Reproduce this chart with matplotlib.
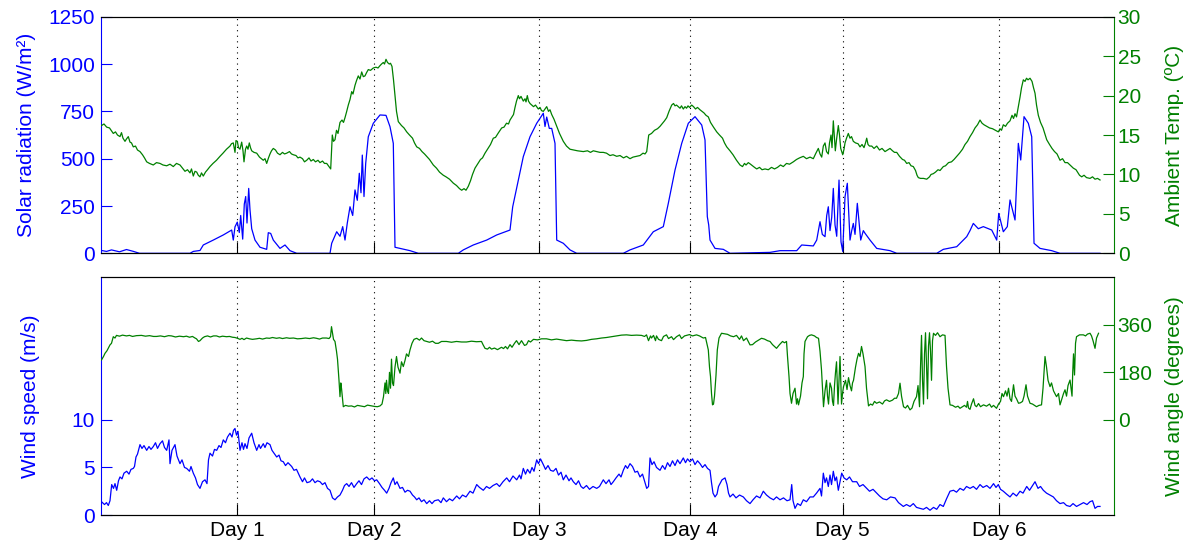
import matplotlib.pyplot as plt

plt.rcParams['font.family'] = ['Liberation Sans', 'DejaVu Sans']
plt.rcParams['font.size'] = 15

BLUE = '#0000ff'
GREEN = '#008000'

# x axis is sample index; noon of each day marked
day_pos = [135.5, 272.8, 437.5, 588.8, 741.2, 897.8]
day_labels = ['Day 1', 'Day 2', 'Day 3', 'Day 4', 'Day 5', 'Day 6']

# --- top panel: solar radiation (W/m2) ---
t_solar = [0, 5, 10, 18, 25, 32, 35, 38, 88.5, 91.8, 98.5, 101.8, 111.8, 121.8, 130.2, 131.8,
           133.5, 135.8, 137.8, 139.2, 141.2, 142.8, 144.2, 145.5, 147.2, 148.5, 150.2, 153.5,
           158.5, 165.2, 166.8, 169.2, 171.8, 178.5, 183.5, 188.5, 195.2, 228.5, 230.2, 235.2,
           238.5, 241.2, 243.5, 245.8, 248.5, 251.2, 253.5, 255.8, 257.8, 259.5, 260.8, 262.5,
           264.2, 266.8, 271.8, 278.5, 284.5, 288.5, 291.8, 293.5, 298.5, 308.5, 316.8,
           356.8, 361.8, 371.8, 385.2, 395.2, 408.5, 411.2, 416.8, 421.8, 428.5, 435.2, 441.8,
           443.5, 445.2, 447.8, 450.2, 453.5, 455.2, 461.8, 468.5, 475.2, 521.8, 528.5, 541.8,
           551.8, 561.8, 566.8, 573.5, 580.2, 586.8, 593.5, 600.2, 603.5, 605.8, 607.2, 608.5,
           613.5, 621.8, 628.5, 668.5, 678.5, 695.2, 700.2, 711.8, 715.2, 718.5, 720.8, 723.5,
           725.2, 726.8, 728.5, 730.2, 731.8, 733.5, 735.2, 737.5, 739.5, 741.2, 743.5, 745.8,
           748.5, 750.2, 751.8, 753.5, 755.8, 759.2, 761.8, 763.5, 768.5, 775.2, 788.5, 795.2,
           835.2, 841.8, 855.2, 865.2, 868.5, 871.8, 876.8, 881.8, 890.2, 895.2, 897.2, 901.8,
           905.8, 908.5, 913.5, 916.8, 919.2, 922.5, 926.8, 930.2, 932.5, 938.5, 950.2, 958.5,
           998.5]
solar = [15, 10, 18, 8, 20, 10, 5, 0, 0, 10, 15, 44, 70, 97, 123, 70,
         140, 165, 110, 200, 75, 260, 300, 160, 343, 230, 130, 70,
         32, 21, 109, 105, 70, 26, 44, 14, 0, 0, 53, 114,
         90, 141, 70, 160, 246, 200, 335, 280, 423, 320, 519, 300,
         475, 616, 687, 731, 729, 669, 581, 32, 26, 14, 0,
         0, 18, 44, 70, 97, 123, 246, 387, 511, 616, 687, 740,
         670, 720, 660, 660, 581, 70, 53, 18, 0, 0, 18, 44,
         114, 141, 264, 440, 581, 687, 722, 678, 599, 194, 150, 70,
         26, 21, 0, 5, 14, 14, 44, 39, 70, 167, 100, 88,
         200, 246, 120, 190, 343, 150, 90, 387, 60, 10, 299, 370,
         70, 120, 158, 100, 264, 70, 120, 106, 70, 26, 14, 0,
         0, 21, 35, 88, 120, 158, 130, 141, 123, 70, 211, 114,
         141, 282, 176, 581, 493, 722, 687, 616, 53, 26, 14, 0,
         0]

# --- top panel: ambient temperature (deg C) ---
t_temp = [0, 2.5, 5.2, 8, 11.8, 14, 16, 18.5, 20, 21.5, 23.5, 25, 26.8, 28.5, 30, 31.8, 34, 36,
          38.5, 41, 43, 45.2, 48, 51.8, 55, 58.5, 61.5, 65.2, 68.5, 71.8, 75, 78.5, 81, 83.5, 86,
          88.5, 90, 91.8, 93.5, 95.2, 96.8, 98.5, 100, 101.8, 104, 106, 108.5, 111.5, 115, 118.5,
          121.5, 125, 128.5, 130, 131.8, 133.5, 134.5, 135.8, 137, 138.5, 140.2, 141.5, 142.5, 144,
          145.2, 146.5, 147.8, 149, 150.2, 152.5, 155.2, 158, 161.8, 163.5, 165.2, 167, 168.5, 170,
          171.8, 174, 176, 178.5, 181, 183, 185.2, 188, 190, 191.8, 194.5, 196.5, 198.5, 201, 203,
          205.2, 207.5, 209.5, 211.8, 214, 216.5, 218.5, 221, 223, 225.2, 227.5, 229.2, 230.8, 232,
          233.5, 235, 236.5, 238.5, 240.5, 242, 243.5, 245, 246.8, 248.5, 250.2, 251.5, 253.5, 255,
          256.8, 258.5, 260.2, 261.8, 263.5, 265, 266.8, 269, 271.8, 274.5, 276.5, 278.5, 280,
          281.8, 283, 284.5, 286, 287.8, 289, 290.5, 292, 293.5, 295, 296.8, 300, 302.5, 305.2, 308,
          311, 313, 315.2, 318, 320.5, 323, 325.2, 328, 331.8, 335, 338, 341.8, 344.5, 348, 351.8,
          355, 358, 360.2, 362.5, 364.5, 366.8, 369, 371, 373.5, 376, 379, 381, 383.5, 386, 389,
          391.8, 394, 397, 400.2, 402.5, 405, 407, 408.5, 410, 412, 413.5, 415, 416.8, 418, 419.5,
          421.8, 423.5, 424.5, 425.8, 427, 428.5, 430.2, 432, 434, 436.8, 438.5, 440, 441.8, 443.5,
          445.2, 447, 448.5, 450.2, 452.5, 455.2, 458, 461.8, 465, 468.5, 472, 476, 481.8, 486, 489,
          491.8, 495, 498.5, 501.8, 505, 508.5, 511.5, 515.2, 518.5, 522, 525, 528.5, 531.5, 535,
          538.5, 541.5, 543.5, 545.2, 547.2, 550, 553, 556, 558.5, 561, 563, 565.2, 567.5, 570.2,
          572, 573.5, 575, 576.8, 578.5, 580, 581.8, 583.5, 585, 586.5, 588, 590.2, 592, 594, 596,
          598.5, 600.5, 602.5, 604.5, 606.8, 609, 612, 615.2, 618, 621, 623, 625.2, 628.5, 631.5,
          635, 638.5, 641, 643, 644.5, 646.8, 649, 651, 653, 655.2, 658, 660.5, 663.5, 666.8, 670,
          673, 676, 679, 681.8, 685, 688, 691.8, 695, 698, 701.8, 705, 708.5, 711.8, 714, 716.8,
          718.5, 720.2, 721.8, 723.5, 725, 726.8, 728, 729.5, 730.5, 731.8, 733, 733.8, 735, 736.8,
          738, 739.2, 741.2, 742.5, 743.5, 745, 746.8, 748.5, 750, 751.8, 754, 756.5, 758.5, 760.5,
          762.5, 764, 765.2, 766.5, 768, 770.2, 772.5, 775.2, 778, 780.5, 783.5, 786, 788.5, 791,
          793, 795.2, 798, 801, 803, 805.2, 807.5, 809.5, 811.8, 814, 815.5, 816.8, 819, 822, 825.2,
          828, 829.5, 831.8, 834, 836.5, 838.5, 841.8, 844, 847, 850, 852.5, 855.2, 858, 861, 863.5,
          866, 868.5, 871, 873.5, 876, 878.5, 880.5, 882.5, 885.2, 888, 891, 894, 896.8, 898.5, 900,
          901.8, 904, 906, 908.5, 910.5, 912, 913.5, 915, 916.8, 918.5, 920, 921.8, 923.5, 925,
          926.5, 928.5, 930.5, 932, 933.5, 935, 936.8, 939, 941.5, 943, 945.2, 948, 950.5, 953,
          955.5, 958.5, 961, 963.5, 966, 968.5, 971.8, 974.5, 976.5, 978, 980.2, 982.5, 985, 988.5,
          991, 993.5, 996, 998.5]
temp = [16.2, 16.4, 16.0, 15.9, 15.2, 15.4, 15.0, 14.8, 15.3, 14.6, 14.2, 14.5, 14.8, 14.1, 14.0,
        13.5, 13.6, 13.1, 12.9, 12.5, 12.1, 11.6, 11.4, 11.2, 11.5, 11.4, 11.2, 11.1, 11.3, 11.0,
        11.4, 11.2, 10.8, 10.4, 10.6, 10.2, 10.7, 9.8, 10.4, 10.3, 9.9, 9.7, 10.2, 9.8, 10.3,
        10.6, 11.0, 11.4, 11.8, 12.3, 12.7, 13.2, 13.6, 13.9, 14.0, 12.8, 14.3, 14.2, 13.4, 13.2,
        14.1, 13.0, 11.6, 13.2, 13.6, 13.2, 14.0, 13.4, 13.0, 12.8, 12.7, 12.2, 11.8, 12.0, 11.4,
        12.1, 12.6, 13.0, 13.3, 13.1, 12.7, 12.5, 12.8, 12.6, 12.7, 12.9, 12.6, 12.5, 12.4, 12.1,
        12.2, 12.0, 11.6, 11.8, 12.1, 11.7, 11.9, 11.6, 11.8, 11.5, 11.7, 11.4, 11.4, 11.0, 10.7,
        15.0, 14.2, 14.4, 15.6, 15.2, 16.6, 16.9, 16.6, 17.2, 17.9, 18.8, 19.5, 20.5, 20.2, 21.3,
        21.9, 22.5, 22.1, 23.0, 22.4, 22.5, 22.9, 23.3, 23.2, 23.5, 23.6, 23.5, 23.8, 24.0, 24.2,
        24.0, 24.6, 24.2, 24.0, 24.1, 23.7, 22.0, 20.0, 18.0, 16.7, 16.2, 15.9, 15.4, 15.0, 14.6,
        14.0, 13.5, 13.3, 12.9, 12.6, 12.3, 11.9, 11.2, 10.8, 10.3, 9.9, 9.7, 9.4, 8.9, 8.6, 8.2,
        8.0, 8.2, 8.0, 8.5, 9.2, 10.0, 10.8, 11.3, 11.9, 12.1, 12.7, 13.2, 13.8, 14.6, 14.7, 15.3,
        15.9, 16.0, 16.5, 16.4, 16.9, 17.2, 17.6, 18.5, 19.3, 20.0, 19.6, 19.9, 19.3, 19.6, 19.2,
        20.0, 19.3, 19.0, 18.8, 18.6, 18.8, 18.3, 18.5, 18.1, 18.0, 18.3, 18.6, 18.0, 18.2, 17.6,
        17.0, 16.1, 15.2, 14.2, 13.6, 13.2, 13.1, 13.0, 12.9, 13.0, 12.8, 13.0, 12.9, 12.8, 12.8,
        12.7, 12.4, 12.5, 12.3, 12.4, 12.1, 12.3, 12.0, 12.2, 12.3, 12.4, 12.7, 12.6, 12.9, 15.0,
        15.2, 15.6, 15.8, 16.1, 16.5, 16.8, 17.2, 18.0, 18.8, 19.0, 18.7, 18.8, 18.6, 18.4, 18.7,
        18.3, 18.6, 18.4, 18.7, 18.5, 18.8, 18.6, 18.3, 18.5, 18.2, 18.0, 17.8, 17.5, 17.3, 16.6,
        16.0, 15.4, 15.0, 14.6, 14.0, 13.5, 13.0, 12.5, 11.8, 11.2, 11.0, 11.4, 11.2, 11.5, 11.3,
        11.1, 10.9, 10.7, 10.9, 10.6, 10.7, 10.6, 10.9, 10.7, 10.9, 11.2, 11.0, 11.4, 11.3, 11.6,
        11.9, 12.1, 12.3, 12.0, 12.2, 12.0, 12.6, 13.3, 12.6, 12.2, 13.6, 14.0, 12.9, 12.6, 14.0,
        15.0, 13.4, 16.8, 14.5, 13.0, 14.4, 16.2, 15.0, 13.3, 12.5, 13.2, 14.0, 14.6, 15.2, 14.6,
        14.8, 14.2, 14.0, 13.9, 13.5, 13.8, 13.4, 14.0, 14.6, 13.8, 13.6, 13.6, 13.3, 13.6, 13.1,
        13.3, 12.9, 13.1, 13.3, 13.0, 12.8, 12.8, 12.3, 11.9, 11.8, 11.4, 11.5, 11.1, 11.0, 10.5,
        9.9, 9.6, 9.5, 9.5, 9.4, 9.7, 10.0, 10.1, 10.3, 10.6, 10.5, 11.0, 11.1, 11.5, 11.6, 11.9,
        12.3, 12.7, 13.2, 13.8, 14.2, 14.8, 15.3, 15.9, 16.3, 16.9, 16.5, 16.3, 16.1, 15.9, 15.8,
        15.6, 15.4, 15.8, 15.6, 16.3, 16.1, 16.5, 16.8, 17.5, 17.1, 17.7, 17.3, 18.6, 19.8, 21.0,
        22.0, 21.8, 22.2, 22.0, 22.2, 21.8, 21.0, 20.3, 18.8, 17.5, 16.6, 15.9, 15.3, 14.4, 13.8,
        13.3, 12.9, 12.6, 11.8, 12.0, 11.5, 11.5, 11.2, 10.8, 10.6, 10.2, 9.9, 9.7, 9.9, 9.6, 9.5,
        9.7, 9.4, 9.5, 9.3]

# --- bottom panel: wind speed (m/s) ---
t_wspd = [0, 3, 5, 6.8, 8.5, 10.2, 12, 13.5, 15.2, 17, 18.5, 20.5, 22.5, 25.2, 27.5, 29.5, 31.8, 33,
          34.5, 36, 38.5, 40.5, 42.5, 45.2, 47.5, 49.5, 51.8, 54, 56, 58.5, 61, 63, 65.2, 67.5,
          68.5, 70.5, 73.5, 75.5, 78.5, 80.5, 83, 85.2, 88, 89.5, 91.8, 94, 96, 98.5, 101, 103.5,
          105.5, 107, 108.5, 111, 113, 115.2, 117.5, 119.5, 121.8, 124, 126, 128.5, 130.5, 132,
          133.5, 135, 136.5, 138.5, 140.5, 142, 143.5, 145.5, 147.5, 150.2, 152.5, 155.2, 157.5,
          159, 161.8, 163.5, 165.5, 168.5, 170.5, 172.5, 175.2, 177.5, 179.5, 181.8, 184, 186.5,
          190.2, 192.5, 195, 198.5, 201, 203, 205.5, 208.5, 211, 213.5, 216, 218.5, 221, 223.5, 226,
          228.5, 231, 233.5, 236, 238.5, 241, 243, 245.2, 247.5, 250, 252.5, 255.2, 257.5, 260,
          262.5, 265.2, 268, 270.5, 273, 275.2, 278, 280.5, 283, 285.2, 287.5, 289.5, 291.8, 293.5,
          295.5, 298.5, 301, 303.5, 306, 308.5, 311, 313, 315.2, 317.5, 320, 322.5, 325.2, 328,
          330.5, 333, 336.8, 339.5, 341.8, 345, 348, 351, 355.2, 358, 361, 364.5, 368.5, 371.5,
          375.2, 378, 381.8, 385, 388, 391.5, 395.2, 398, 401.5, 405.2, 408, 411.5, 415.2, 418,
          419.5, 421.8, 424, 426, 428.5, 430.5, 432.5, 435.2, 437, 439, 441.8, 444, 446.5, 449,
          451.8, 454.5, 457, 459.5, 461.8, 464.5, 467.5, 469.5, 471.8, 474.5, 477, 479.5, 481.8,
          485, 488, 491.5, 495.2, 498, 501.8, 504.5, 507.5, 509.5, 511.8, 514.5, 517.5, 519.5,
          521.8, 524, 526, 528.5, 531, 533.5, 536, 538.5, 541, 543, 545.2, 547, 548.5, 550.5, 552.5,
          555, 558.5, 561, 563.5, 566, 568.5, 571, 573.5, 576, 578.5, 581.8, 584, 586, 588.5, 591,
          593.5, 596, 598.5, 601, 603.5, 606, 608.5, 610, 611.5, 613.5, 615.5, 617, 618.5, 620.5,
          623.5, 625.5, 627, 628.5, 631.5, 634.5, 638, 641.8, 645, 648.5, 651.5, 655, 658.5, 661.8,
          665, 668.5, 672, 675, 678.5, 682, 685.5, 688.5, 690.2, 691.5, 693.5, 696, 699, 701.8,
          705, 708.5, 711.8, 715, 718.5, 720, 721.8, 723.5, 725, 726.8, 728.5, 730, 731.8, 733.5,
          735, 736.8, 738.5, 740.2, 742.5, 745.2, 748, 751, 755.2, 758, 761.5, 765.2, 768, 771.5,
          775.2, 778, 781.5, 785.2, 789, 793.5, 797, 801.8, 805, 808.5, 811.8, 815, 818.5, 821.8,
          825, 828.5, 832, 835.2, 838.5, 841.8, 845, 848.5, 852, 855, 858.5, 862, 865, 868.5, 871.8,
          875, 878.5, 881.5, 885.2, 888.5, 892, 894.5, 896.8, 899, 901.8, 905, 908.5, 911.5, 915,
          918.5, 921.5, 925.2, 928, 931, 933.5, 936.5, 939, 941.8, 945, 948.5, 951.8, 955, 958.5,
          962, 965, 968.5, 971.5, 975, 978.5, 982, 985.5, 988.5, 991, 993.5, 996, 998.5]
wspd = [1.4, 1.1, 1.3, 1.0, 1.5, 3.2, 2.8, 3.3, 2.6, 3.6, 4.0, 3.8, 4.4, 4.6, 4.3, 4.8, 4.9, 5.1,
        6.1, 6.4, 7.4, 7.0, 7.3, 6.8, 7.2, 6.9, 7.2, 7.6, 7.0, 7.5, 7.8, 7.1, 6.8, 7.9,
        5.4, 6.8, 7.4, 6.2, 5.4, 5.8, 5.0, 4.9, 4.6, 5.1, 4.4, 3.9, 3.2, 2.8, 3.5, 3.7,
        3.3, 5.8, 6.5, 6.2, 6.9, 6.8, 7.3, 7.1, 7.9, 7.6, 8.2, 8.6, 8.2, 8.9,
        9.1, 8.4, 8.8, 6.8, 7.6, 6.9, 7.5, 7.0, 8.1, 8.6, 7.6, 6.8, 7.4,
        7.0, 7.5, 7.1, 7.6, 7.4, 6.8, 6.5, 6.1, 6.3, 5.7, 5.6, 5.2, 5.5,
        5.1, 4.7, 4.8, 4.0, 3.5, 3.9, 3.4, 3.5, 3.8, 3.4, 3.6, 3.5, 3.2, 3.4, 2.8,
        2.6, 1.8, 1.6, 1.9, 2.1, 2.6, 3.1, 3.3, 3.0, 3.4, 2.9, 3.3, 3.6, 3.2,
        3.8, 4.0, 3.7, 3.9, 3.6, 3.7, 3.3, 2.9, 2.6, 2.3, 2.8, 3.4, 3.9, 3.2,
        3.5, 2.8, 2.9, 2.4, 2.6, 2.5, 2.1, 1.9, 1.6, 1.8, 1.4, 1.6, 1.2, 1.5,
        1.2, 1.5, 1.6, 1.3, 1.8, 1.4, 1.7, 1.5, 2.0, 1.7, 2.1, 1.9, 2.5, 2.3,
        3.2, 2.9, 2.6, 3.0, 2.8, 3.1, 3.3, 3.0, 3.5, 3.9, 3.5, 4.1, 3.7, 4.2,
        3.8, 4.9, 4.3, 4.8, 4.4, 5.0, 4.6, 5.8, 5.4, 5.9, 5.3, 4.8, 5.2, 4.7,
        4.6, 4.9, 4.2, 4.5, 3.7, 4.2, 3.6, 3.9, 3.5, 3.2, 3.6, 3.0, 2.8,
        3.1, 2.7, 3.0, 2.8, 3.0, 3.7, 3.3, 3.7, 3.2, 3.5, 3.9, 4.3, 4.0,
        4.7, 5.2, 4.9, 5.4, 5.1, 4.5, 4.6, 4.0, 4.3, 3.6, 2.8, 3.0, 6.0, 5.3, 5.6,
        5.0, 4.7, 5.2, 4.8, 5.5, 5.1, 5.7, 5.2, 5.8, 5.4, 6.0, 5.5, 5.9, 5.6, 5.9,
        5.3, 5.7, 5.4, 5.0, 5.3, 4.9, 4.7, 3.4, 2.3, 1.9, 2.2, 3.0, 3.3, 3.7,
        3.9, 3.2, 2.3, 1.9, 2.2, 1.8, 2.1, 1.9, 1.5, 1.2, 1.6, 2.0, 1.8, 2.5,
        2.1, 1.8, 1.6, 1.9, 1.6, 1.8, 1.5, 1.6, 3.2, 1.5, 0.7, 1.2, 1.0, 1.6,
        1.4, 1.9, 1.9, 2.3, 2.8, 2.0, 4.4, 3.4, 3.9, 3.0, 4.2, 3.2, 4.6, 3.6,
        4.0, 2.6, 3.5, 4.4, 3.9, 3.7, 4.0, 3.5, 3.5, 3.0, 3.2, 2.8, 2.5, 2.7,
        2.3, 2.0, 1.7, 1.6, 1.9, 1.8, 1.3, 0.9, 1.1, 0.9, 1.2, 0.8, 0.7, 0.6,
        0.8, 0.5, 0.8, 0.6, 1.1, 0.9, 1.7, 2.5, 2.6, 2.4, 2.8, 2.6, 3.0, 2.8, 3.0,
        2.7, 3.2, 2.9, 3.1, 2.8, 3.3, 2.9, 3.2, 2.7, 2.5, 2.2, 1.9, 2.3, 2.0,
        2.5, 2.3, 3.0, 2.6, 3.1, 3.5, 2.8, 3.0, 2.6, 2.3, 2.1, 1.9, 1.5, 1.2,
        1.3, 1.0, 0.9, 1.2, 0.9, 1.1, 1.3, 1.1, 1.4, 1.5, 0.7, 0.9, 0.9]

# --- bottom panel: wind angle (degrees) ---
t_wdir = [0, 2, 3.5, 5.5, 8.5, 10, 11.8, 13.5, 15, 18, 21, 25, 28, 31, 35, 40, 44, 48, 52, 55, 59,
          63, 67, 70, 74, 78, 82, 85, 88, 91, 93.5, 95, 97, 98.5, 101, 103, 106, 109, 112, 115,
          118, 121, 125, 128, 131, 133.5, 136, 138.5, 140.5, 142.5, 145, 148, 151, 155, 158, 161,
          165, 168, 171, 175, 178, 181, 185, 188, 192, 196, 200, 204, 208, 212, 215, 218, 221, 225,
          227.5, 229, 230, 231, 232, 233.5, 235, 236, 236.8, 237.5, 238.5, 239.3, 240, 241, 241.8,
          244, 247, 250, 253, 256, 260, 263, 266, 270, 273, 276, 278.5, 280.5, 282, 283.5, 284.3,
          285, 286, 287, 288, 289, 290, 291, 292, 293.5, 295, 296.5, 298.5, 300, 301.8, 303.5, 305,
          307, 308.5, 310.5, 312.5, 315.2, 318, 320, 322.5, 325.2, 328, 331, 334, 336.8, 340, 345,
          350, 355, 360, 365, 370, 375, 380, 381.5, 383.5, 386, 388, 390, 393, 396, 400, 402, 404,
          406, 408.5, 410.5, 413, 415, 417.5, 420, 423, 425, 427, 429, 432, 436, 440, 445, 450, 455,
          460, 465, 470, 475, 480, 485, 490, 495, 500, 505, 510, 515, 520, 525, 530, 535, 540, 543,
          545, 547, 549, 550, 552, 554, 555, 557, 560, 562, 565, 567, 570, 572, 575, 578, 580, 583,
          585, 588, 591, 595, 598, 601.8, 604, 606.8, 608, 609, 610, 611, 612, 613, 614.5, 615.8,
          617.5, 620, 623, 626, 629, 632, 635, 638, 640, 642, 645, 648.5, 651, 654, 657, 660, 663,
          666, 668.5, 671, 675, 678, 681, 683, 685, 686, 687.5, 688.5, 690, 691.5, 693.5, 695, 696,
          697, 699, 700.5, 701.8, 702.5, 703.5, 706, 708, 710, 713, 715, 717, 718.5, 720, 721, 722,
          723.5, 725, 726, 727, 728.5, 730, 731, 732, 733, 734, 735, 736.5, 737.5, 738.5, 739.2,
          740, 741, 742, 744, 745.5, 747, 748.5, 750, 751, 752, 754, 755.5, 757, 758.5, 760, 761.5,
          763.5, 765, 767, 769, 771, 773, 775, 778, 781, 783, 785, 788, 791, 793, 795, 797, 798.5,
          800, 802, 804, 806, 808.5, 810.5, 812.5, 815, 816.5, 818, 819, 820, 821, 822, 823, 824,
          825, 826, 827, 828, 829, 830, 831, 832, 834, 836, 838.5, 841, 843.5, 845, 846.5, 848.5,
          851, 854, 856.5, 858.5, 861, 863, 865, 866, 867, 868.5, 870, 872, 873.5, 875, 877, 879,
          882, 885, 888, 890, 892, 895, 897, 899, 900.5, 902, 904, 905.5, 907, 908.5, 910, 912,
          913.5, 915, 917, 919, 921, 922.5, 924.5, 926, 928.5, 931, 935, 937.5, 940, 941.5, 943.5,
          945, 946.5, 948.5, 950, 952, 955, 957, 958.5, 960, 962, 963.5, 965, 966.5, 968.5, 969.5,
          970.5, 971.2, 972, 973, 974, 975, 978, 981.8, 984, 986, 988.5, 990, 991.5, 993.5, 995,
          997]
wdir = [227, 240, 252, 262, 284, 290, 315, 310, 320, 317, 321, 318, 320, 316, 319, 320, 317, 319,
        316, 316, 318, 315, 319, 318, 314, 317, 315, 317, 313, 316, 310, 307, 297, 300, 310, 315,
        318, 314, 318, 318, 314, 317, 315, 316, 313, 312, 309, 305, 309, 304, 310, 307, 305, 307,
        309, 306, 310, 309, 312, 309, 311, 308, 311, 309, 310, 307, 308, 310, 308, 311, 309, 306,
        310, 310, 308, 315, 353, 330, 305, 297, 260, 230, 189, 150, 88, 140, 120, 80, 50,
        55, 52, 53, 49, 55, 52, 50, 56, 53, 51, 50, 53, 60, 88, 140, 100,
        150, 110, 100, 180, 120, 230, 140, 130, 200, 240, 200, 177, 220, 202, 225, 250,
        240, 265, 290, 305, 309, 302, 310, 300, 297, 294, 298, 290, 290, 297, 297,
        294, 297, 295, 295, 298, 296, 297, 285, 271, 268, 275, 268, 272, 266, 275, 270, 278,
        269, 285, 275, 290, 300, 285, 300, 282, 285, 300, 295, 305, 303, 307, 307, 303, 306,
        303, 300, 302, 300, 299, 301, 305, 307, 310, 312, 315, 318, 321, 322, 320, 321, 320, 316,
        322, 300, 318, 310, 320, 300, 318, 305, 300, 316, 322, 308, 315, 304, 315, 322, 308, 318,
        320, 323, 318, 322, 318, 310, 312, 265, 200, 164, 100, 57, 60, 90, 170, 265,
        310, 328, 326, 324, 318, 315, 320, 305, 318, 300, 310, 284, 285, 295, 302, 309, 306,
        300, 297, 285, 271, 285, 297, 292, 297, 240, 164, 100, 63, 100, 120, 60, 80,
        57, 90, 140, 164, 250, 297, 315, 320, 322, 318, 312, 309, 260, 189, 120, 50,
        110, 150, 90, 60, 140, 120, 70, 55, 130, 180, 220, 60, 150, 240, 150,
        60, 100, 126, 150, 115, 160, 130, 110, 140, 150, 200, 230, 252, 240, 278, 250,
        202, 120, 53, 60, 56, 70, 63, 68, 60, 72, 76, 70, 75, 82, 82, 100, 139,
        90, 50, 45, 55, 38, 45, 70, 88, 130, 50, 200, 320, 150, 60, 250, 330,
        200, 80, 280, 330, 260, 150, 300, 328, 320, 330, 315, 322, 320, 202, 120, 57,
        55, 48, 52, 44, 50, 55, 48, 70, 45, 40, 60, 80, 55, 50, 62, 50,
        57, 52, 60, 48, 55, 44, 60, 70, 100, 88, 110, 90, 120, 80, 70, 133,
        90, 80, 63, 65, 70, 90, 133, 90, 63, 60, 50, 55, 57, 120, 240,
        200, 150, 126, 140, 110, 88, 100, 57, 75, 100, 114, 90, 130, 151, 120,
        90, 180, 250, 170, 290, 315, 322, 322, 318, 325, 328, 318, 300, 271, 310,
        328]


def style_pair(axl, axr, show_xlabels):
    axl.set_xlim(0, 1012)
    axl.set_xticks(day_pos)
    axl.set_xticklabels(day_labels)
    axl.grid(axis='x', color='k', linestyle=(0, (1, 4)), linewidth=0.8)
    axl.tick_params(axis='x', direction='in', length=8, width=0.8, color='k',
                    labelcolor='k', pad=4, labelbottom=show_xlabels)
    axl.tick_params(axis='y', direction='in', length=8, width=0.8, colors=BLUE, pad=4.5)
    axr.tick_params(axis='y', direction='in', length=8, width=0.8, colors=GREEN, pad=3)
    axl.spines['left'].set_color(BLUE)
    axl.spines['right'].set_visible(False)
    axr.spines['left'].set_visible(False)
    axr.spines['right'].set_color(GREEN)
    for ax in (axl, axr):
        for s in ax.spines.values():
            s.set_linewidth(0.8)


fig = plt.figure(figsize=(11.94, 5.47), dpi=100)

ax1 = fig.add_axes([0.0850, 0.5369, 0.8476, 0.4325])
ax2 = ax1.twinx()
ax1.plot(t_solar, solar, color=BLUE, lw=0.9)
ax2.plot(t_temp, temp, color=GREEN, lw=0.9)
ax1.set_ylim(0, 1250)
ax1.set_yticks([0, 250, 500, 750, 1000, 1250])
ax2.set_ylim(0, 30)
ax2.set_yticks([0, 5, 10, 15, 20, 25, 30])
style_pair(ax1, ax2, False)
ax1.set_ylabel('Solar radiation (W/m²)', color=BLUE, va='center')
ax1.yaxis.set_label_coords(-0.0745, 0.5)
ax2.set_ylabel('Ambient Temp. (ºC)', color=GREEN, va='center')
ax2.yaxis.set_label_coords(1.0598, 0.5)

ax3 = fig.add_axes([0.0850, 0.0585, 0.8476, 0.4346])
ax4 = ax3.twinx()
ax3.plot(t_wspd, wspd, color=BLUE, lw=0.9)
ax4.plot(t_wdir, wdir, color=GREEN, lw=0.9)
ax3.set_ylim(0, 25)
ax3.set_yticks([0, 5, 10])
ax4.set_ylim(-360, 540)
ax4.set_yticks([0, 180, 360])
style_pair(ax3, ax4, True)
ax3.set_ylabel('Wind speed (m/s)', color=BLUE, va='center')
ax3.yaxis.set_label_coords(-0.0705, 0.5)
ax4.set_ylabel('Wind angle (degrees)', color=GREEN, va='center')
ax4.yaxis.set_label_coords(1.0598, 0.5)

fig.savefig('out.png', dpi=100)
